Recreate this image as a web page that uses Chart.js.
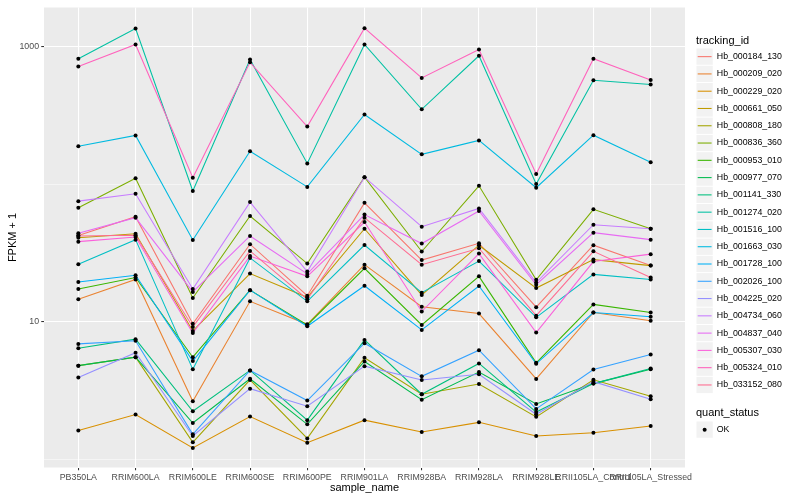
<!DOCTYPE html>
<html>
<head>
<meta charset="utf-8">
<script src="https://cdn.jsdelivr.net/npm/chart.js@4.4.0/dist/chart.umd.min.js"></script>
<style>
  body { margin: 0; background: #fff; }
</style>
</head>
<body>
<canvas id="fpkmChart" width="800" height="500"></canvas>
<script>
// samples on the x axis
var categories = ['PB350LA', 'RRIM600LA', 'RRIM600LE', 'RRIM600SE', 'RRIM600PE', 'RRIM901LA',
                  'RRIM928BA', 'RRIM928LA', 'RRIM928LE', 'RRII105LA_Control', 'RRII105LA_Stressed'];

var trackingIds = ['Hb_000184_130', 'Hb_000209_020', 'Hb_000229_020', 'Hb_000661_050', 'Hb_000808_180',
                   'Hb_000836_360', 'Hb_000953_010', 'Hb_000977_070', 'Hb_001141_330', 'Hb_001274_020',
                   'Hb_001516_100', 'Hb_001663_030', 'Hb_001728_100', 'Hb_002026_100', 'Hb_004225_020',
                   'Hb_004734_060', 'Hb_004837_040', 'Hb_005307_030', 'Hb_005324_010', 'Hb_033152_080'];

// FPKM + 1 per gene, in category order
var hb000184_130 = [42.4, 58, 9.7, 36.6, 15.5, 73, 28.1, 37.2, 12.8, 36.0, 25.6];
var hb000209_020 = [14.6, 20.3, 2.66, 14.1, 9.6, 26.0, 12.9, 11.5, 3.86, 11.7, 10.2];
var hb000229_020 = [1.63, 2.13, 1.22, 2.06, 1.33, 1.94, 1.59, 1.87, 1.49, 1.57, 1.76];
var hb000661_050 = [40.8, 43.6, 8.6, 22.4, 15.1, 47.4, 15.7, 36.0, 17.6, 28.3, 25.6];
var hb000808_180 = [4.82, 5.55, 1.34, 3.80, 1.43, 5.50, 2.99, 3.55, 2.05, 3.81, 2.89];
var hb000836_360 = [67.3, 110, 14.9, 58.6, 26.5, 112, 32.4, 97, 20.2, 65.5, 47.4];
var hb000953_010 = [17.3, 21.0, 5.55, 17.0, 9.5, 24.5, 9.5, 21.4, 5.05, 13.4, 11.7];
var hb000977_070 = [4.82, 5.55, 1.85, 3.87, 1.81, 5.17, 2.73, 4.33, 2.54, 3.57, 4.53];
var hb001141_330 = [6.45, 7.5, 2.25, 4.45, 1.94, 7.41, 2.99, 5.0, 2.22, 3.57, 4.60];
var hb001274_020 = [810, 1341, 89, 800, 141, 1027, 348, 851, 100, 565, 526];
var hb001516_100 = [26.2, 39.5, 4.53, 29.1, 14.1, 36.1, 16.3, 27.6, 10.8, 22.1, 20.3];
var hb001663_030 = [188, 225, 39.3, 173, 95.3, 319, 164, 207, 94, 226, 144];
var hb001728_100 = [19.5, 21.8, 5.2, 17.0, 9.3, 18.3, 8.75, 18.2, 4.97, 11.7, 10.9];
var hb002026_100 = [6.93, 7.3, 1.53, 4.45, 2.69, 7.01, 4.03, 6.24, 2.34, 4.52, 5.81];
var hb004225_020 = [3.96, 5.98, 1.49, 3.28, 2.45, 4.78, 3.79, 4.17, 2.14, 3.69, 2.75];
var hb004734_060 = [75.1, 84.9, 17.3, 73.9, 23.2, 112, 49.0, 66.5, 19.3, 50.7, 47.4];
var hb004837_040 = [43.9, 57, 16.5, 42, 22.3, 60, 37.0, 63.7, 18.6, 44.4, 39.5];
var hb005307_030 = [38.2, 41.3, 8.3, 30, 21.4, 53, 11.9, 31.3, 8.37, 27.4, 31.0];
var hb005324_010 = [712, 1027, 111, 762, 261, 1349, 588, 945, 118, 810, 568];
var hb033152_080 = [42.0, 42.5, 9.2, 32.7, 14.6, 57, 26.0, 34.2, 11.1, 32.5, 21.0];

var seriesValues = [hb000184_130, hb000209_020, hb000229_020, hb000661_050, hb000808_180,
                    hb000836_360, hb000953_010, hb000977_070, hb001141_330, hb001274_020,
                    hb001516_100, hb001663_030, hb001728_100, hb002026_100, hb004225_020,
                    hb004734_060, hb004837_040, hb005307_030, hb005324_010, hb033152_080];

var yTicks = [1, 10, 100, 1000];
var yLabelled = [10, 1000];
var quantStatus = ['OK'];

// ggplot default hue palette for 20 groups
var palette = ['#F8766D', '#EA8331', '#D89000', '#C09B00', '#A3A500', '#7CAE00', '#39B600', '#00BB4E',
               '#00BF7D', '#00C1A3', '#00BFC4', '#00BAE0', '#00B0F6', '#35A2FF', '#9590FF', '#C77CFF',
               '#E76BF3', '#FA62DB', '#FF62BC', '#FF6C91'];

var FONT = '"Liberation Sans", Arial, sans-serif';
Chart.defaults.font.family = FONT;

var datasets = [];
var allPoints = [];
seriesValues.forEach(function (vals, s) {
    var pts = vals.map(function (v, i) { return { x: i, y: v }; });
    allPoints = allPoints.concat(pts);
    datasets.push({
        label: trackingIds[s],
        data: pts,
        borderColor: palette[s],
        borderWidth: 1.07,
        pointRadius: 0,
        fill: false,
        tension: 0,
        order: seriesValues.length - s
    });
});
// black points drawn above every line
datasets.push({
    label: quantStatus[0],
    data: allPoints,
    showLine: false,
    pointRadius: 2,
    pointBorderWidth: 0,
    pointBackgroundColor: '#000',
    order: -1
});

var isMajor = function (c) { return c.tick && yLabelled.indexOf(c.tick.value) >= 0; };

// panel background behind the grid
var panelBg = {
    id: 'panelBg',
    beforeDraw: function (chart) {
        var a = chart.chartArea;
        chart.ctx.save();
        chart.ctx.fillStyle = '#EBEBEB';
        chart.ctx.fillRect(a.left, a.top, a.right - a.left, a.bottom - a.top);
        chart.ctx.restore();
    }
};

// ggplot style legend to the right of the panel
var sideLegend = {
    id: 'sideLegend',
    afterDraw: function (chart) {
        var c = chart.ctx;
        var x0 = chart.chartArea.right + 11, key = 17.28;
        function keyBox(top) {
            c.fillStyle = '#FFFFFF';
            c.fillRect(x0, top, key, key);
            c.fillStyle = '#F2F2F2';
            c.fillRect(x0 + 0.5, top + 0.5, key - 1, key - 1);
        }
        c.save();
        c.textBaseline = 'middle';
        c.fillStyle = '#000';
        c.font = '11px ' + FONT;
        c.fillText('tracking_id', x0, 40.5);
        c.font = '8.8px ' + FONT;
        var top0 = 48;
        trackingIds.forEach(function (id, i) {
            var top = top0 + key * i;
            keyBox(top);
            c.strokeStyle = palette[i];
            c.lineWidth = 1.07;
            c.beginPath();
            c.moveTo(x0 + 1.7, top + key / 2);
            c.lineTo(x0 + key - 1.7, top + key / 2);
            c.stroke();
            c.fillStyle = '#000';
            c.fillText(id, x0 + key + 3.5, top + key / 2);
        });
        c.font = '11px ' + FONT;
        c.fillText('quant_status', x0, 412.5);
        var okTop = 421;
        keyBox(okTop);
        c.fillStyle = '#000';
        c.beginPath();
        c.arc(x0 + key / 2, okTop + key / 2, 2, 0, Math.PI * 2);
        c.fill();
        c.font = '8.8px ' + FONT;
        c.fillText(quantStatus[0], x0 + key + 3.5, okTop + key / 2);
        c.restore();
    }
};

var ctx = document.getElementById('fpkmChart').getContext('2d');
var fpkmChart = new Chart(ctx, {
    type: 'line',
    data: { datasets: datasets },
    options: {
        responsive: false,
        animation: false,
        devicePixelRatio: 1,
        layout: { padding: { left: 0, top: 5.5, right: 115, bottom: 0 } },
        plugins: { legend: { display: false }, tooltip: { enabled: false } },
        scales: {
            x: {
                type: 'linear',
                min: -0.6,
                max: categories.length - 0.4,
                afterBuildTicks: function (scale) {
                    scale.ticks = categories.map(function (c, i) { return { value: i }; });
                },
                afterFit: function (scale) { scale.height = 32.5; },
                ticks: {
                    autoSkip: false, maxRotation: 0, minRotation: 0, padding: 2.2,
                    color: '#4D4D4D', font: { size: 8.8 },
                    callback: function (v) { return categories[v]; }
                },
                grid: { color: '#FFFFFF', lineWidth: 1.07, tickLength: 2.75, tickColor: '#333333', tickWidth: 1.07 },
                border: { display: false },
                title: { display: true, text: 'sample_name', color: '#000', font: { size: 11 }, padding: { top: 0, bottom: 5 } }
            },
            y: {
                type: 'logarithmic',
                min: 0.88,
                max: 1905,
                afterBuildTicks: function (scale) {
                    scale.ticks = yTicks.map(function (v) { return { value: v }; });
                },
                afterFit: function (scale) { scale.width = 44; },
                ticks: {
                    padding: 2.2, color: '#4D4D4D', font: { size: 8.8 },
                    callback: function (v) { return yLabelled.indexOf(v) >= 0 ? String(v) : ''; }
                },
                grid: {
                    color: '#FFFFFF',
                    lineWidth: function (c) { return isMajor(c) ? 1.07 : 0.53; },
                    tickLength: 2.75,
                    tickColor: function (c) { return isMajor(c) ? '#333333' : 'rgba(0,0,0,0)'; },
                    tickWidth: 1.07
                },
                border: { display: false },
                title: { display: true, text: 'FPKM + 1', color: '#000', font: { size: 11 }, padding: { top: 6.7, bottom: 0 } }
            }
        }
    },
    plugins: [panelBg, sideLegend]
});
</script>
</body>
</html>
